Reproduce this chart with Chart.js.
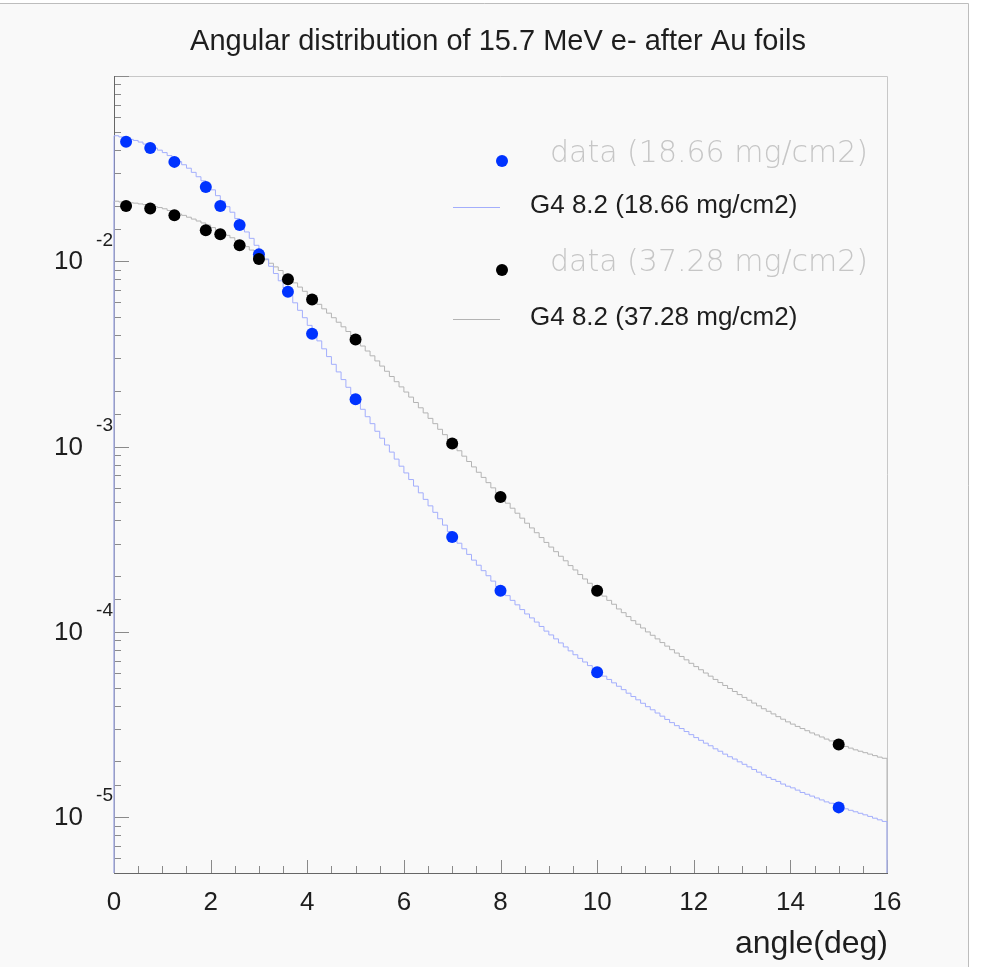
<!DOCTYPE html>
<html>
<head>
<meta charset="utf-8">
<script src="https://cdn.jsdelivr.net/npm/chart.js@4.4.1/dist/chart.umd.min.js"></script>
<style>
  html, body { margin: 0; padding: 0; background: #ffffff; }
  canvas { display: block; }
</style>
</head>
<body>
<canvas id="chart" width="990" height="967"></canvas>
<script>
// measured angles (deg) of the data points, same for both foils
const dataAngles = [0.25, 0.75, 1.25, 1.9, 2.2, 2.6, 3.0, 3.6, 4.1, 5, 7, 8, 10, 15];
const dataThin  = [0.0442, 0.0409, 0.0344, 0.0252, 0.0199, 0.0157, 0.0109, 0.00686, 0.00407, 0.00180, 0.000325, 0.000167, 6.06e-5, 1.13e-5];
const dataThick = [0.0199, 0.0193, 0.0177, 0.0147, 0.0140, 0.0122, 0.0103, 0.00799, 0.00623, 0.00379, 0.00104, 0.000535, 0.000167, 2.47e-5];

// G4 histograms, 0.1 deg bins from 0 to 16 deg
const binWidth = 0.1;
const g4Thin = [
  0.0476, 0.0469, 0.0462, 0.0455, 0.0449,
  0.0440, 0.0429, 0.0418, 0.0408, 0.0398,
  0.0386, 0.0372, 0.0358, 0.0345, 0.0332,
  0.0318, 0.0302, 0.0286, 0.0272, 0.0258,
  0.0243, 0.0226, 0.0211, 0.0197, 0.0184,
  0.0170, 0.0157, 0.0144, 0.0133, 0.0122,
  0.0112, 0.0103, 0.00940, 0.00859, 0.00785,
  0.00717, 0.00654, 0.00597, 0.00544, 0.00496,
  0.00451, 0.00410, 0.00372, 0.00337, 0.00306,
  0.00278, 0.00253, 0.00230, 0.00209, 0.00191,
  0.00174, 0.00159, 0.00145, 0.00133, 0.00121,
  0.00111, 0.00102, 0.000934, 0.000856, 0.000784,
  0.000721, 0.000664, 0.000612, 0.000563, 0.000519,
  0.000479, 0.000442, 0.000408, 0.000377, 0.000348,
  0.000323, 0.000301, 0.000281, 0.000262, 0.000244,
  0.000229, 0.000214, 0.000201, 0.000188, 0.000176,
  0.000166, 0.000157, 0.000148, 0.000140, 0.000132,
  0.000125, 0.000119, 0.000113, 0.000107, 0.000101,
  9.63e-5, 9.17e-5, 8.72e-5, 8.30e-5, 7.90e-5,
  7.53e-5, 7.20e-5, 6.88e-5, 6.58e-5, 6.29e-5,
  6.03e-5, 5.77e-5, 5.54e-5, 5.31e-5, 5.09e-5,
  4.88e-5, 4.67e-5, 4.48e-5, 4.30e-5, 4.12e-5,
  3.95e-5, 3.80e-5, 3.65e-5, 3.51e-5, 3.37e-5,
  3.24e-5, 3.12e-5, 3.01e-5, 2.90e-5, 2.79e-5,
  2.69e-5, 2.60e-5, 2.51e-5, 2.43e-5, 2.34e-5,
  2.27e-5, 2.19e-5, 2.12e-5, 2.06e-5, 1.99e-5,
  1.93e-5, 1.87e-5, 1.81e-5, 1.75e-5, 1.69e-5,
  1.64e-5, 1.60e-5, 1.56e-5, 1.51e-5, 1.47e-5,
  1.44e-5, 1.40e-5, 1.36e-5, 1.33e-5, 1.30e-5,
  1.27e-5, 1.24e-5, 1.21e-5, 1.19e-5, 1.16e-5,
  1.14e-5, 1.11e-5, 1.09e-5, 1.07e-5, 1.05e-5,
  1.03e-5, 1.01e-5, 9.88e-6, 9.68e-6, 9.49e-6
];
const g4Thick = [
  0.0211, 0.0209, 0.0208, 0.0207, 0.0206,
  0.0204, 0.0202, 0.0200, 0.0197, 0.0195,
  0.0192, 0.0188, 0.0184, 0.0180, 0.0177,
  0.0173, 0.0169, 0.0165, 0.0161, 0.0157,
  0.0152, 0.0147, 0.0143, 0.0138, 0.0134,
  0.0129, 0.0124, 0.0120, 0.0115, 0.0111,
  0.0107, 0.0102, 0.00976, 0.00933, 0.00892,
  0.00849, 0.00807, 0.00765, 0.00726, 0.00689,
  0.00653, 0.00619, 0.00586, 0.00554, 0.00525,
  0.00496, 0.00469, 0.00443, 0.00418, 0.00395,
  0.00372, 0.00349, 0.00328, 0.00309, 0.00290,
  0.00272, 0.00255, 0.00239, 0.00224, 0.00210,
  0.00197, 0.00185, 0.00173, 0.00162, 0.00152,
  0.00142, 0.00133, 0.00124, 0.00116, 0.00109,
  0.00102, 0.000950, 0.000888, 0.000831, 0.000777,
  0.000727, 0.000682, 0.000639, 0.000599, 0.000561,
  0.000527, 0.000495, 0.000465, 0.000437, 0.000411,
  0.000386, 0.000364, 0.000343, 0.000323, 0.000304,
  0.000287, 0.000271, 0.000256, 0.000242, 0.000228,
  0.000216, 0.000204, 0.000193, 0.000183, 0.000173,
  0.000164, 0.000156, 0.000148, 0.000141, 0.000133,
  0.000127, 0.000121, 0.000115, 0.000110, 0.000105,
  1.00e-4, 9.59e-5, 9.17e-5, 8.76e-5, 8.38e-5,
  8.02e-5, 7.69e-5, 7.37e-5, 7.07e-5, 6.77e-5,
  6.50e-5, 6.25e-5, 6.00e-5, 5.77e-5, 5.54e-5,
  5.33e-5, 5.14e-5, 4.95e-5, 4.77e-5, 4.59e-5,
  4.43e-5, 4.28e-5, 4.13e-5, 3.99e-5, 3.85e-5,
  3.73e-5, 3.61e-5, 3.49e-5, 3.38e-5, 3.27e-5,
  3.18e-5, 3.09e-5, 3.01e-5, 2.93e-5, 2.85e-5,
  2.78e-5, 2.71e-5, 2.64e-5, 2.58e-5, 2.51e-5,
  2.46e-5, 2.41e-5, 2.36e-5, 2.31e-5, 2.27e-5,
  2.23e-5, 2.19e-5, 2.15e-5, 2.11e-5, 2.08e-5
];

// axes
const xMin = 0, xMax = 16;
const yMin = 5e-6, yMax = 0.1;
const xTickLabels = [0, 2, 4, 6, 8, 10, 12, 14, 16];
const xMinorStep = 0.5;
const yDecades = [1e-2, 1e-3, 1e-4, 1e-5];
const yExponents = ['-2', '-3', '-4', '-5'];

const titleText = 'Angular distribution of 15.7 MeV e- after Au foils';
const xTitle = 'angle(deg)';
const legendItems = [
  { kind: 'dot',  color: '#0033ff', label: 'data (18.66 mg/cm2)' },
  { kind: 'line', color: '#a3aefc', label: 'G4 8.2 (18.66 mg/cm2)' },
  { kind: 'dot',  color: '#000000', label: 'data (37.28 mg/cm2)' },
  { kind: 'line', color: '#b4b4b4', label: 'G4 8.2 (37.28 mg/cm2)' }
];

// histogram outline like ROOT: up from the axis, stairs, down to the axis
function histPoints(values) {
  const pts = [{ x: xMin, y: yMin }];
  values.forEach((v, i) => pts.push({ x: xMin + i * binWidth, y: v }));
  pts.push({ x: xMin + values.length * binWidth, y: values[values.length - 1] });
  pts.push({ x: xMin + values.length * binWidth, y: yMin });
  return pts;
}

function dataPoints(values) {
  return dataAngles.map((a, i) => ({ x: a, y: values[i] }));
}

const isDecade = v => Math.abs(Math.log10(v) - Math.round(Math.log10(v))) < 1e-6;

const rootFrame = {
  id: 'rootFrame',
  beforeDraw(chart) {
    const ctx = chart.ctx;
    ctx.save();
    ctx.fillStyle = '#ffffff';
    ctx.fillRect(0, 0, chart.width, chart.height);
    // canvas pad with its thin border
    ctx.fillStyle = '#f9f9f9';
    ctx.fillRect(0, 4, 968, chart.height - 4);
    ctx.strokeStyle = '#bdbdbd';
    ctx.lineWidth = 1;
    ctx.beginPath();
    ctx.moveTo(0, 3.5);
    ctx.lineTo(968.5, 3.5);
    ctx.lineTo(968.5, chart.height);
    ctx.stroke();
    ctx.restore();
  },
  beforeDatasetsDraw(chart) {
    const ctx = chart.ctx;
    const a = chart.chartArea;
    const xs = chart.scales.x, ys = chart.scales.y;
    ctx.save();
    // light top/right border
    ctx.strokeStyle = '#c8c8c8';
    ctx.lineWidth = 1;
    ctx.beginPath();
    ctx.moveTo(a.left, a.top + 0.5);
    ctx.lineTo(a.right + 0.5, a.top + 0.5);
    ctx.lineTo(a.right + 0.5, a.bottom);
    ctx.stroke();

    // x ticks
    ctx.strokeStyle = '#8a8a8a';
    ctx.beginPath();
    for (let v = xMin; v <= xMax + 1e-9; v += xMinorStep) {
      const px = Math.round(xs.getPixelForValue(v)) + 0.5;
      const len = xTickLabels.includes(v) ? 13 : 7;
      ctx.moveTo(px, a.bottom);
      ctx.lineTo(px, a.bottom - len);
    }
    // y ticks from the log scale
    ys.ticks.forEach(t => {
      if (t.value < yMin || t.value > yMax) return;
      const py = Math.round(ys.getPixelForValue(t.value)) + 0.5;
      const len = isDecade(t.value) ? 15 : 7;
      ctx.moveTo(a.left, py);
      ctx.lineTo(a.left + len, py);
    });
    ctx.stroke();

    // main axes
    ctx.strokeStyle = '#666666';
    ctx.beginPath();
    ctx.moveTo(a.left + 0.5, a.top);
    ctx.lineTo(a.left + 0.5, a.bottom + 0.5);
    ctx.lineTo(a.right + 1, a.bottom + 0.5);
    ctx.stroke();
    ctx.restore();
  },
  afterDraw(chart) {
    const ctx = chart.ctx;
    const a = chart.chartArea;
    const xs = chart.scales.x, ys = chart.scales.y;
    ctx.save();
    ctx.fillStyle = '#1e1e1e';

    // title
    ctx.font = '29px "Liberation Sans", Arial, sans-serif';
    ctx.textAlign = 'center';
    ctx.textBaseline = 'alphabetic';
    ctx.fillText(titleText, 498, 50);

    // x labels
    ctx.font = '26px "Liberation Sans", Arial, sans-serif';
    ctx.textBaseline = 'middle';
    xTickLabels.forEach(v => {
      ctx.fillText(String(v), xs.getPixelForValue(v), a.bottom + 30);
    });

    // y labels 10^n
    yDecades.forEach((v, i) => {
      const py = ys.getPixelForValue(v);
      ctx.font = '26px "Liberation Sans", Arial, sans-serif';
      ctx.textAlign = 'right';
      ctx.fillText('10', a.left - 31, py + 1);
      ctx.font = '19px "Liberation Sans", Arial, sans-serif';
      ctx.fillText(yExponents[i], a.left - 1, py - 21);
    });

    // x title
    ctx.font = '32px "Liberation Sans", Arial, sans-serif';
    ctx.textAlign = 'right';
    ctx.textBaseline = 'alphabetic';
    ctx.fillText(xTitle, a.right + 1, 953);

    // legend
    const rows = [161, 207, 270, 319];
    legendItems.forEach((it, i) => {
      const y = rows[i];
      if (it.kind === 'dot') {
        ctx.fillStyle = it.color;
        ctx.beginPath();
        ctx.arc(502, y, 6, 0, Math.PI * 2);
        ctx.fill();
        ctx.fillStyle = '#c6c6c6';
        ctx.font = '200 30px "DejaVu Sans", sans-serif';
        ctx.textAlign = 'left';
        ctx.fillText(it.label, 550, y + 1);
      } else {
        ctx.strokeStyle = it.color;
        ctx.lineWidth = 1;
        ctx.beginPath();
        ctx.moveTo(453, y + 0.5);
        ctx.lineTo(500, y + 0.5);
        ctx.stroke();
        ctx.fillStyle = '#1e1e1e';
        ctx.font = '26px "Liberation Sans", Arial, sans-serif';
        ctx.textAlign = 'left';
        ctx.fillText(it.label, 530, y + 6);
      }
    });
    ctx.restore();
  }
};

const chart = new Chart(document.getElementById('chart').getContext('2d'), {
  type: 'line',
  data: {
    datasets: [
      {
        label: legendItems[2].label,
        data: dataPoints(dataThick),
        showLine: false,
        pointRadius: 6,
        pointBorderWidth: 0,
        pointBackgroundColor: '#000000',
        clip: false
      },
      {
        label: legendItems[0].label,
        data: dataPoints(dataThin),
        showLine: false,
        pointRadius: 6,
        pointBorderWidth: 0,
        pointBackgroundColor: '#0033ff',
        clip: false
      },
      {
        label: legendItems[1].label,
        data: histPoints(g4Thin),
        stepped: 'before',
        borderColor: '#a3aefc',
        borderWidth: 1,
        pointRadius: 0,
        fill: false,
        clip: 2
      },
      {
        label: legendItems[3].label,
        data: histPoints(g4Thick),
        stepped: 'before',
        borderColor: '#b4b4b4',
        borderWidth: 1,
        pointRadius: 0,
        fill: false,
        clip: 2
      }
    ]
  },
  options: {
    responsive: false,
    animation: false,
    devicePixelRatio: 1,
    parsing: false,
    layout: { padding: { left: 114, right: 103, top: 76, bottom: 94 } },
    plugins: {
      legend: { display: false },
      title: { display: false },
      tooltip: { enabled: false }
    },
    scales: {
      x: {
        type: 'linear',
        min: xMin,
        max: xMax,
        grid: { display: false, drawTicks: false },
        border: { display: false },
        ticks: { display: false },
        afterFit(s) { s.height = 0; }
      },
      y: {
        type: 'logarithmic',
        min: yMin,
        max: yMax,
        grid: { display: false, drawTicks: false },
        border: { display: false },
        ticks: { display: false },
        afterFit(s) { s.width = 0; }
      }
    }
  },
  plugins: [rootFrame]
});
</script>
</body>
</html>
